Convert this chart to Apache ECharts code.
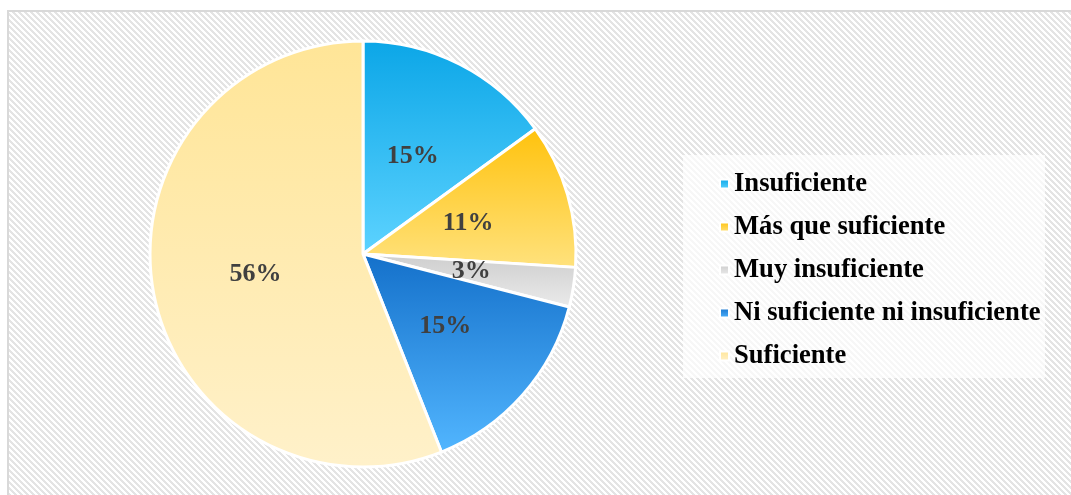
<!DOCTYPE html>
<html>
<head>
<meta charset="utf-8">
<script src="https://cdn.jsdelivr.net/npm/echarts@6/dist/echarts.min.js"></script>
<style>
  html, body { margin: 0; padding: 0; background: #fff; }
  #chart { width: 1071px; height: 495px; }
</style>
</head>
<body>
<div id="chart"></div>
<script>
// datos del grafico
var categorias = ['Insuficiente', 'Más que suficiente', 'Muy insuficiente', 'Ni suficiente ni insuficiente', 'Suficiente'];
var valores = [15, 11, 3, 15, 56];
var coloresArriba = ['#0BA6E7', '#FFC20C', '#CDCDCD', '#1470CA', '#FFE597'];
var coloresAbajo = ['#5DD3FF', '#FFE27E', '#EBEBEB', '#52B6FF', '#FFF1CA'];

// fondo rayado
function crearRayado() {
  var c = document.createElement('canvas');
  c.width = 6; c.height = 6;
  var ctx = c.getContext('2d');
  ctx.fillStyle = '#ffffff';
  ctx.fillRect(0, 0, 6, 6);
  ctx.fillStyle = '#E4E4E4';
  for (var y = 0; y < 6; y++) {
    for (var x = 0; x < 6; x++) {
      if (((x - y) % 6 + 6) % 6 < 3) ctx.fillRect(x, y, 1, 1);
    }
  }
  return c;
}

function degradado(i) {
  return new echarts.graphic.LinearGradient(0, 0, 0, 1, [
    { offset: 0, color: coloresArriba[i] },
    { offset: 1, color: coloresAbajo[i] }
  ]);
}

var myChart = echarts.init(document.getElementById('chart'));
var datos = categorias.map(function (nombre, i) {
  return { name: nombre, value: valores[i], itemStyle: { color: degradado(i) } };
});

var option = {
  animation: false,
  backgroundColor: '#ffffff',
  graphic: [
    {
      type: 'rect', z: -10,
      shape: { x: 8, y: 11, width: 1100, height: 520 },
      style: { fill: { image: crearRayado(), repeat: 'repeat' }, stroke: '#D9D9D9', lineWidth: 2 }
    },
    {
      type: 'rect', z: -9,
      shape: { x: 683, y: 155, width: 362, height: 223 },
      style: { fill: 'rgba(255,255,255,0.7)' }
    }
  ],
  legend: {
    orient: 'vertical',
    left: 714,
    top: 164,
    icon: 'rect',
    itemWidth: 9,
    itemHeight: 9,
    itemGap: 13,
    selectedMode: false,
    textStyle: {
      fontFamily: 'Liberation Serif',
      fontWeight: 'bold',
      fontSize: 26.6,
      lineHeight: 30,
      color: '#000'
    },
    data: categorias
  },
  series: [
    {
      name: '',
      type: 'pie',
      center: [363, 254],
      radius: [0, 213],
      startAngle: 90,
      clockwise: true,
      avoidLabelOverlap: false,
      itemStyle: { borderColor: '#ffffff', borderWidth: 3 },
      label: {
        position: 'inner',
        formatter: '{d}%',
        fontFamily: 'Liberation Serif',
        fontWeight: 'bold',
        fontSize: 26,
        color: '#404040'
      },
      labelLine: { show: false },
      emphasis: { disabled: true },
      data: datos
    }
  ]
};
myChart.setOption(option);
</script>
</body>
</html>
